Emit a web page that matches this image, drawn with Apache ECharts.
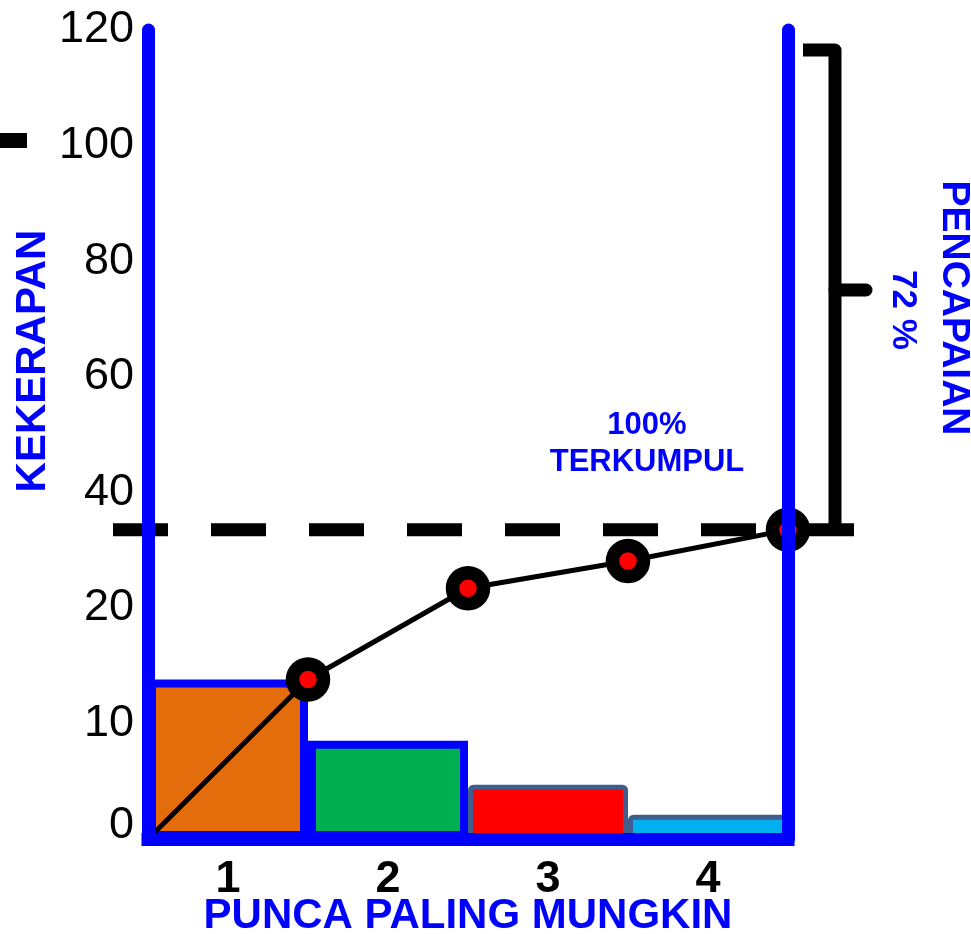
<!DOCTYPE html>
<html>
<head>
<meta charset="utf-8">
<script src="https://cdn.jsdelivr.net/npm/echarts@6/dist/echarts.min.js"></script>
<style>
html,body{margin:0;padding:0;background:#fff;}
#chart{width:971px;height:934px;}
</style>
</head>
<body>
<div id="chart"></div>
<script>
// ---- data ----
const categories = ['1', '2', '3', '4'];
const frequency = [13.8, 8.5, 4.7, 2.1];          // bar heights (KEKERAPAN)
const cumulative = [0, 13.8, 23.4, 28.1, 33.5];   // cumulative line points
const tickLabels = [0, 10, 20, 40, 60, 80, 100, 120];
const fullLevel = 33.5;                            // 100% TERKUMPUL level
const achievementText = '72 %';

// ---- styles ----
const BLUE = '#0000FF';
const FONT = 'Liberation Sans, Arial, sans-serif';
const barStyles = [
  { color: '#E46C0A', borderColor: BLUE, borderWidth: 8 },
  { color: '#00B050', borderColor: BLUE, borderWidth: 8 },
  { color: '#FF0000', borderColor: '#3F5E8E', borderWidth: 5, borderRadius: 3 },
  { color: '#00B0F0', borderColor: '#3F5E8E', borderWidth: 5, borderRadius: 3 }
];

// tick labels are evenly spaced on the axis; map a value onto that scale
function toIdx(v) {
  for (let i = 0; i < tickLabels.length - 1; i++) {
    if (v <= tickLabels[i + 1]) {
      return i + (v - tickLabels[i]) / (tickLabels[i + 1] - tickLabels[i]);
    }
  }
  return tickLabels.length - 1;
}

const chart = echarts.init(document.getElementById('chart'), null, { renderer: 'canvas' });

const option = {
  animation: false,
  backgroundColor: '#fff',
  grid: { left: 148, right: 183, top: 30, bottom: 95, containLabel: false, outerBoundsMode: 'none' },
  xAxis: [
    {
      type: 'category',
      data: categories,
      boundaryGap: true,
      z: 5,
      axisLine: { show: true, lineStyle: { color: BLUE, width: 13, cap: 'square' } },
      axisTick: { show: false },
      splitLine: { show: false },
      axisLabel: { fontSize: 45, fontWeight: 'bold', color: '#000', margin: 18, fontFamily: FONT },
      name: 'PUNCA PALING MUNGKIN',
      nameLocation: 'middle',
      nameGap: 56,
      nameMoveOverlap: false,
      nameTextStyle: { fontSize: 42, fontWeight: 'bold', color: BLUE, fontFamily: FONT }
    },
    { type: 'value', min: 0, max: categories.length, show: false }
  ],
  yAxis: [
    {
      type: 'value',
      min: 0,
      max: tickLabels.length - 1,
      interval: 1,
      z: 5,
      axisLine: { show: true, lineStyle: { color: BLUE, width: 13 } },
      axisTick: { show: false },
      splitLine: { show: false },
      axisLabel: {
        fontSize: 45,
        color: '#000',
        fontFamily: FONT,
        margin: 14,
        showMaxLabel: true,
        showMinLabel: true,
        formatter: function (v) {
          const lab = String(tickLabels[Math.round(v)]);
          return Math.round(v) === 0 ? '{lo|' + lab + '}' : lab;
        },
        rich: {
          lo: { fontSize: 45, color: '#000', fontFamily: FONT, padding: [0, 0, 26, 0] }
        }
      }
    },
    {
      type: 'value',
      position: 'right',
      min: 0,
      max: tickLabels.length - 1,
      interval: 1,
      z: 5,
      axisLine: { show: true, lineStyle: { color: BLUE, width: 13 } },
      axisTick: { show: false },
      axisLabel: { show: false },
      splitLine: { show: false }
    }
  ],
  series: [
    {
      type: 'bar',
      xAxisIndex: 0,
      yAxisIndex: 0,
      barWidth: '100%',
      barCategoryGap: '0%',
      z: 2,
      data: frequency.map((v, i) => ({ value: toIdx(v), itemStyle: barStyles[i] }))
    },
    {
      type: 'line',
      xAxisIndex: 1,
      yAxisIndex: 0,
      z: 3,
      symbol: 'circle',
      symbolSize: 31,
      lineStyle: { color: '#000', width: 5 },
      itemStyle: { color: '#FF0000', borderColor: '#000', borderWidth: 13.5 },
      data: cumulative.map((v, i) => i === 0
        ? { value: [i, toIdx(v)], symbol: 'none' }
        : { value: [i, toIdx(v)] })
    }
  ]
};

chart.setOption(option);

const dy = chart.convertToPixel({ yAxisIndex: 0 }, toIdx(fullLevel));

chart.setOption({
  graphic: [
    { type: 'rect', z: 1, shape: { x: 0, y: 133, width: 27, height: 15 }, style: { fill: '#000' } },
    {
      type: 'line', z: 1,
      shape: { x1: 113, y1: dy, x2: 854, y2: dy },
      style: { stroke: '#000', lineWidth: 13, lineDash: [55, 43] }
    },
    {
      type: 'polyline', z: 1,
      shape: { points: [[803, 50], [835, 50], [835, dy]] },
      style: { stroke: '#000', lineWidth: 13, lineJoin: 'round', fill: null }
    },
    {
      type: 'line', z: 1,
      shape: { x1: 835, y1: 290, x2: 866, y2: 290 },
      style: { stroke: '#000', lineWidth: 13, lineCap: 'round' }
    },
    {
      type: 'text', x: 33, y: 361, rotation: Math.PI / 2,
      style: { text: 'KEKERAPAN', font: 'bold 42px ' + FONT, fill: BLUE,
        textAlign: 'center', textVerticalAlign: 'middle', align: 'center', verticalAlign: 'middle' }
    },
    {
      type: 'text', x: 954, y: 308, rotation: -Math.PI / 2,
      style: { text: 'PENCAPAIAN', font: 'bold 39px ' + FONT, fill: BLUE,
        textAlign: 'center', textVerticalAlign: 'middle', align: 'center', verticalAlign: 'middle' }
    },
    {
      type: 'text', x: 903, y: 310, rotation: -Math.PI / 2,
      style: { text: achievementText, font: 'bold 35px ' + FONT, fill: BLUE,
        textAlign: 'center', textVerticalAlign: 'middle', align: 'center', verticalAlign: 'middle' }
    },
    {
      type: 'text', x: 647, y: 425,
      style: { text: '100%', font: 'bold 31px ' + FONT, fill: BLUE,
        textAlign: 'center', textVerticalAlign: 'middle', align: 'center', verticalAlign: 'middle' }
    },
    {
      type: 'text', x: 647, y: 462,
      style: { text: 'TERKUMPUL', font: 'bold 31px ' + FONT, fill: BLUE,
        textAlign: 'center', textVerticalAlign: 'middle', align: 'center', verticalAlign: 'middle' }
    }
  ]
});
</script>
</body>
</html>
